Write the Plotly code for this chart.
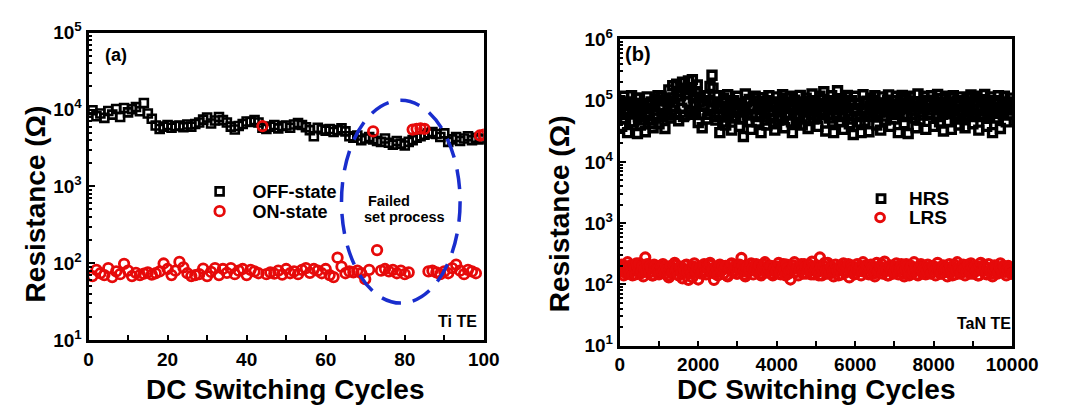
import plotly.graph_objects as go

# ---------------- (a) Ti top electrode: 100 DC cycles ----------------
cycles_a = list(range(1, 101))

off_state = [
    9800, 8200, 8900, 7800, 9600, 8600, 10200, 8000, 10500, 9200,
    10100, 10800, 9500, 12200, 8900, 7600, 6200, 5600, 6000, 6300,
    5800, 6100, 6200, 5900, 6400, 6000, 6500, 6800, 7400, 7900,
    6600, 7200, 8000, 7300, 6800, 6000, 5500, 6100, 6500, 7000,
    6900, 7300, 6800, 5800, 5600, 6000, 6300, 5700, 6100, 6200,
    5800, 6400, 6700, 6300, 5900, 5400, 4500, 5800, 5500, 5300,
    5600, 5100, 5400, 5700, 5200, 4500, 4300, 4600, 4000, 4200,
    4400, 4100, 3900, 3800, 4200, 3700, 3500, 3900, 3600, 3400,
    3800, 4000, 4300, 4500, 4700, 4900, 5100, 4800, 4400, 4900,
    3800, 4100, 4400, 3900, 4200, 4500, 4000, 4300, 4100, 4200,
]

# cycles 44, 72, 82-85, 99, 100: set process failed, ON-state stays high
on_state = [
    68, 82, 74, 70, 86, 66, 78, 72, 98, 80,
    68, 75, 70, 73, 76, 71, 74, 78, 99, 84,
    70, 80, 104, 88, 74, 68, 70, 72, 85, 68,
    77, 86, 70, 84, 75, 86, 72, 80, 84, 70,
    82, 78, 74, 6100, 72, 76, 73, 80, 71, 84,
    74, 78, 72, 82, 86, 75, 84, 80, 74, 84,
    70, 66, 118, 90, 74, 78, 76, 80, 74, 62,
    82, 5200, 148, 80, 84, 78, 82, 74, 80, 72,
    76, 5500, 5600, 5700, 5600, 78, 80, 76, 72, 78,
    74, 86, 96, 80, 72, 82, 78, 74, 4600, 4700,
]

# ---------------- (b) TaN top electrode: 10000 DC cycles ----------------
cycles_b = list(range(0, 10001, 25))

hrs_kohm = [
    100, 60, 38, 85, 118, 50, 62, 95, 30, 72, 92, 45, 120, 80, 45, 65, 70, 110, 29, 55,
    110, 40, 55, 90, 85, 48, 31, 75, 115, 60, 48, 88, 95, 42, 36, 70, 105, 52, 60, 120,
    42, 80, 118, 55, 75, 100, 35, 62, 98, 58, 150, 95, 52, 70, 175, 110, 80, 60, 185, 120,
    47, 140, 120, 75, 200, 55, 58, 130, 160, 95, 210, 65, 65, 150, 220, 110, 90, 60, 140, 180,
    44, 95, 115, 60, 36, 85, 82, 120, 120, 50, 60, 100, 170, 75, 260, 160, 95, 55, 48, 80,
    120, 60, 30, 75, 78, 45, 110, 95, 40, 70, 125, 60, 65, 100, 33, 55, 100, 75, 52, 90,
    118, 65, 38, 85, 90, 50, 26, 70, 128, 95, 58, 45, 105, 75, 34, 60, 80, 110, 118, 55,
    45, 85, 98, 60, 30, 72, 112, 90, 62, 48, 40, 100, 120, 65, 52, 80, 88, 42, 33, 95,
    115, 70, 48, 90, 72, 55, 125, 80, 36, 62, 95, 110, 58, 75, 118, 45, 30, 85, 102, 60,
    44, 90, 82, 55, 122, 70, 40, 95, 65, 50, 110, 75, 35, 85, 96, 60, 128, 80, 50, 100,
    84, 55, 38, 90, 118, 70, 60, 105, 140, 65, 32, 80, 100, 58, 52, 95, 120, 45, 30, 75,
    90, 62, 145, 100, 45, 70, 108, 55, 34, 88, 78, 115, 122, 60, 42, 95, 100, 50, 28, 72,
    118, 75, 55, 90, 86, 45, 30, 68, 125, 95, 46, 70, 98, 55, 31, 80, 110, 72, 64, 100,
    120, 58, 40, 85, 92, 65, 33, 75, 115, 90, 56, 48, 80, 102, 124, 70, 38, 60, 100, 78,
    50, 85, 118, 65, 30, 72, 88, 110, 122, 60, 42, 75, 104, 55, 29, 90, 118, 70, 60, 95,
    96, 52, 36, 80, 128, 65, 48, 92, 84, 58, 118, 75, 34, 88, 102, 62, 58, 95, 120, 70,
    38, 80, 92, 55, 126, 72, 45, 95, 108, 60, 32, 75, 118, 85, 62, 45, 86, 110, 34, 68,
    120, 72, 50, 95, 98, 60, 40, 82, 115, 65, 70, 100, 36, 58, 112, 75, 55, 90, 124, 62,
    42, 85, 95, 60, 118, 72, 33, 55, 104, 80, 60, 95, 126, 68, 38, 90, 88, 55, 115, 75,
    30, 62, 100, 78, 52, 90, 120, 65, 35, 72, 92, 58, 118, 85, 45, 95, 80, 60, 110, 75,
    70,
]
hrs = [v * 1000 for v in hrs_kohm]

lrs = [
    160, 190, 210, 175, 140, 200, 185, 150, 230, 170, 150, 205, 175, 140, 205, 185, 145, 220, 195, 165,
    220, 150, 165, 195, 135, 180, 275, 160, 215, 185, 155, 200, 180, 140, 140, 210, 200, 175, 170, 150,
    145, 200, 190, 160, 215, 170, 150, 195, 175, 140, 130, 185, 200, 155, 160, 210, 225, 170, 180, 145,
    140, 190, 195, 155, 125, 180, 170, 205, 210, 160, 118, 175, 185, 150, 130, 195, 220, 160, 165, 190,
    120, 175, 195, 150, 165, 205, 215, 160, 145, 190, 180, 210, 225, 165, 155, 180, 118, 150, 190, 170,
    140, 200, 210, 165, 170, 195, 150, 185, 200, 140, 135, 180, 185, 210, 220, 165, 160, 190, 195, 150,
    150, 185, 210, 170, 270, 200, 165, 145, 135, 190, 195, 160, 175, 210, 220, 180, 145, 170, 185, 215,
    160, 190, 205, 150, 140, 175, 190, 210, 230, 165, 155, 185, 175, 200, 200, 150, 140, 180, 185, 160,
    165, 195, 225, 150, 145, 180, 195, 215, 170, 140, 210, 185, 150, 165, 120, 175, 185, 205, 230, 160,
    160, 190, 140, 175, 200, 215, 175, 150, 215, 190, 150, 170, 190, 210, 165, 145, 235, 190, 145, 175,
    185, 205, 160, 140, 275, 190, 140, 170, 200, 225, 170, 150, 225, 180, 150, 195, 190, 165, 135, 180,
    210, 175, 165, 140, 180, 205, 145, 190, 220, 165, 155, 185, 195, 215, 130, 170, 205, 185, 170, 145,
    150, 185, 215, 170, 180, 200, 140, 165, 230, 180, 160, 205, 195, 150, 145, 180, 210, 190, 175, 150,
    135, 180, 225, 160, 165, 195, 190, 215, 150, 175, 235, 185, 170, 140, 140, 190, 205, 170, 180, 150,
    160, 195, 220, 175, 145, 180, 195, 215, 175, 150, 135, 175, 215, 195, 160, 140, 185, 200, 150, 165,
    230, 185, 170, 145, 140, 185, 200, 215, 165, 150, 190, 175, 145, 165, 210, 190, 175, 150, 155, 200,
    195, 170, 140, 185, 225, 190, 170, 150, 150, 190, 205, 170, 180, 160, 135, 175, 215, 190, 160, 140,
    190, 210, 145, 170, 230, 185, 175, 150, 155, 190, 210, 180, 140, 165, 195, 210, 165, 150, 220, 185,
    150, 180, 200, 165, 175, 140, 140, 195, 225, 170, 165, 205, 190, 150, 145, 185, 215, 170, 170, 150,
    135, 175, 205, 190, 180, 150, 155, 190, 220, 175, 160, 200, 190, 160, 140, 175, 200, 185, 170, 150,
    150,
]

x_ticks_a = [0, 20, 40, 60, 80, 100]
x_ticks_b = [0, 2000, 4000, 6000, 8000, 10000]
y_ticks_a = [10, 100, 1000, 10000, 100000]
y_ticks_b = [10, 100, 1000, 10000, 100000, 1000000]

W, H = 1077, 416
FONT = "Liberation Sans, Arial, sans-serif"
RED = "rgb(230,10,10)"
BLUE = "rgb(25,45,205)"


def px(x):
    return x / W


def py(y):
    return 1 - y / H


def sup_labels(vals):
    return ["10<sup>%d</sup>" % len(str(v)[1:]) for v in vals]


fig = go.Figure()

square_a = dict(symbol="square-open", size=8, color="black", line=dict(width=2.6, color="black"))
circle_a = dict(symbol="circle-open", size=9.5, color=RED, line=dict(width=2.8, color=RED))
square_b = dict(symbol="square-open", size=8, color="black", line=dict(width=3.4, color="black"))
circle_b = dict(symbol="circle-open", size=9, color=RED, line=dict(width=3.2, color=RED))

fig.add_trace(go.Scatter(x=cycles_a, y=off_state, mode="markers", name="OFF-state",
                         marker=square_a, xaxis="x", yaxis="y", legend="legend"))
fig.add_trace(go.Scatter(x=cycles_a, y=on_state, mode="markers", name="ON-state",
                         marker=circle_a, xaxis="x", yaxis="y", legend="legend2"))
fig.add_trace(go.Scatter(x=cycles_b, y=hrs, mode="markers", name="HRS",
                         marker=square_b, xaxis="x2", yaxis="y2", showlegend=False))
fig.add_trace(go.Scatter(x=cycles_b, y=lrs, mode="markers", name="LRS",
                         marker=circle_b, xaxis="x2", yaxis="y2", showlegend=False))

tick_font = dict(family=FONT, size=19, color="black", weight="bold")
axis_common = dict(showline=True, linewidth=3, linecolor="black", mirror=True,
                   ticks="inside", tickcolor="black", tickwidth=2, showgrid=False,
                   zeroline=False, tickfont=tick_font)


def legend_at(left, top, width, size):
    return dict(x=px(left), y=py(top), xanchor="left", yanchor="top", itemwidth=width,
                bgcolor="rgba(0,0,0,0)", font=dict(family=FONT, size=size, weight="bold"))


fig.update_layout(
    width=W, height=H,
    margin=dict(l=0, r=0, t=0, b=0),
    paper_bgcolor="white", plot_bgcolor="white",
    font=dict(family=FONT, color="black"),
    xaxis=dict(domain=[px(86), px(493)], range=[0, 100], tickvals=x_ticks_a,
               ticktext=[str(v) for v in x_ticks_a], ticklen=5,
               minor=dict(dtick=10, ticks="inside", ticklen=5, tickwidth=2, tickcolor="black"),
               anchor="y", **axis_common),
    yaxis=dict(domain=[py(347), py(21)], type="log", range=[1, 5], tickvals=y_ticks_a,
               ticktext=sup_labels(y_ticks_a), ticklen=6,
               minor=dict(ticks="inside", ticklen=3, tickwidth=1.5, tickcolor="black", dtick="D1"),
               anchor="x", **axis_common),
    xaxis2=dict(domain=[px(633), px(1037)], range=[0, 10000], tickvals=x_ticks_b,
                ticktext=[str(v) for v in x_ticks_b], ticklen=5,
                minor=dict(dtick=1000, ticks="inside", ticklen=5, tickwidth=2, tickcolor="black"),
                anchor="y2", **axis_common),
    yaxis2=dict(domain=[py(353), py(28)], type="log", range=[1, 6], tickvals=y_ticks_b,
                ticktext=sup_labels(y_ticks_b), ticklen=6,
                minor=dict(ticks="inside", ticklen=3, tickwidth=1.5, tickcolor="black", dtick="D1"),
                anchor="x2", **axis_common),
    legend=legend_at(187, 170, 56, 18),
    legend2=legend_at(187, 191, 56, 18),
    showlegend=True,
)

# dashed ellipse around the failed set cycles
fig.add_shape(type="circle", xref="x domain", yref="y domain",
              x0=0.64, x1=0.94, y0=0.12, y1=0.78,
              line=dict(color=BLUE, width=3.5, dash="20px,12px"))

# key for panel (b): open square = HRS, open circle = LRS
fig.add_shape(type="rect", xref="paper", yref="paper",
              x0=px(898), x1=px(906), y0=py(201), y1=py(193),
              line=dict(color="black", width=3), fillcolor="rgba(0,0,0,0)")
fig.add_shape(type="circle", xref="paper", yref="paper",
              x0=px(896.5), x1=px(905.5), y0=py(221.5), y1=py(212.5),
              line=dict(color=RED, width=3), fillcolor="rgba(0,0,0,0)")

ann_font = dict(family=FONT, color="black", weight="bold")
annotations = [
    dict(text="HRS", x=px(929), y=py(197), xanchor="left", yanchor="middle", font=dict(size=19, **ann_font)),
    dict(text="LRS", x=px(929), y=py(217), xanchor="left", yanchor="middle", font=dict(size=19, **ann_font)),
    dict(text="(a)", x=px(101), y=py(45), xanchor="left", yanchor="middle", font=dict(size=18, **ann_font)),
    dict(text="(b)", x=px(636), y=py(44), xanchor="left", yanchor="middle", font=dict(size=20, **ann_font)),
    dict(text="Failed", x=px(372), y=py(200), xanchor="left", yanchor="middle",
         font=dict(size=14.5, **ann_font)),
    dict(text="set process", x=px(368), y=py(216), xanchor="left", yanchor="middle",
         font=dict(size=14.5, **ann_font)),
    dict(text="Ti TE", x=px(488), y=py(327), xanchor="right", yanchor="middle", font=dict(size=16, **ann_font)),
    dict(text="TaN TE", x=px(1038), y=py(329), xanchor="right", yanchor="middle", font=dict(size=16, **ann_font)),
    dict(text="DC Switching Cycles", x=px(289), y=py(400), xanchor="center", yanchor="middle",
         font=dict(size=28, **ann_font)),
    dict(text="DC Switching Cycles", x=px(836), y=py(400), xanchor="center", yanchor="middle",
         font=dict(size=28, **ann_font)),
    dict(text="Resistance (Ω)", x=px(31), y=py(203), xanchor="center", yanchor="middle", textangle=-90,
         font=dict(size=28, **ann_font)),
    dict(text="Resistance (Ω)", x=px(571), y=py(213), xanchor="center", yanchor="middle", textangle=-90,
         font=dict(size=28, **ann_font)),
]
for a in annotations:
    a.update(xref="paper", yref="paper", showarrow=False)
fig.update_layout(annotations=annotations)

fig.write_html("out.html")
